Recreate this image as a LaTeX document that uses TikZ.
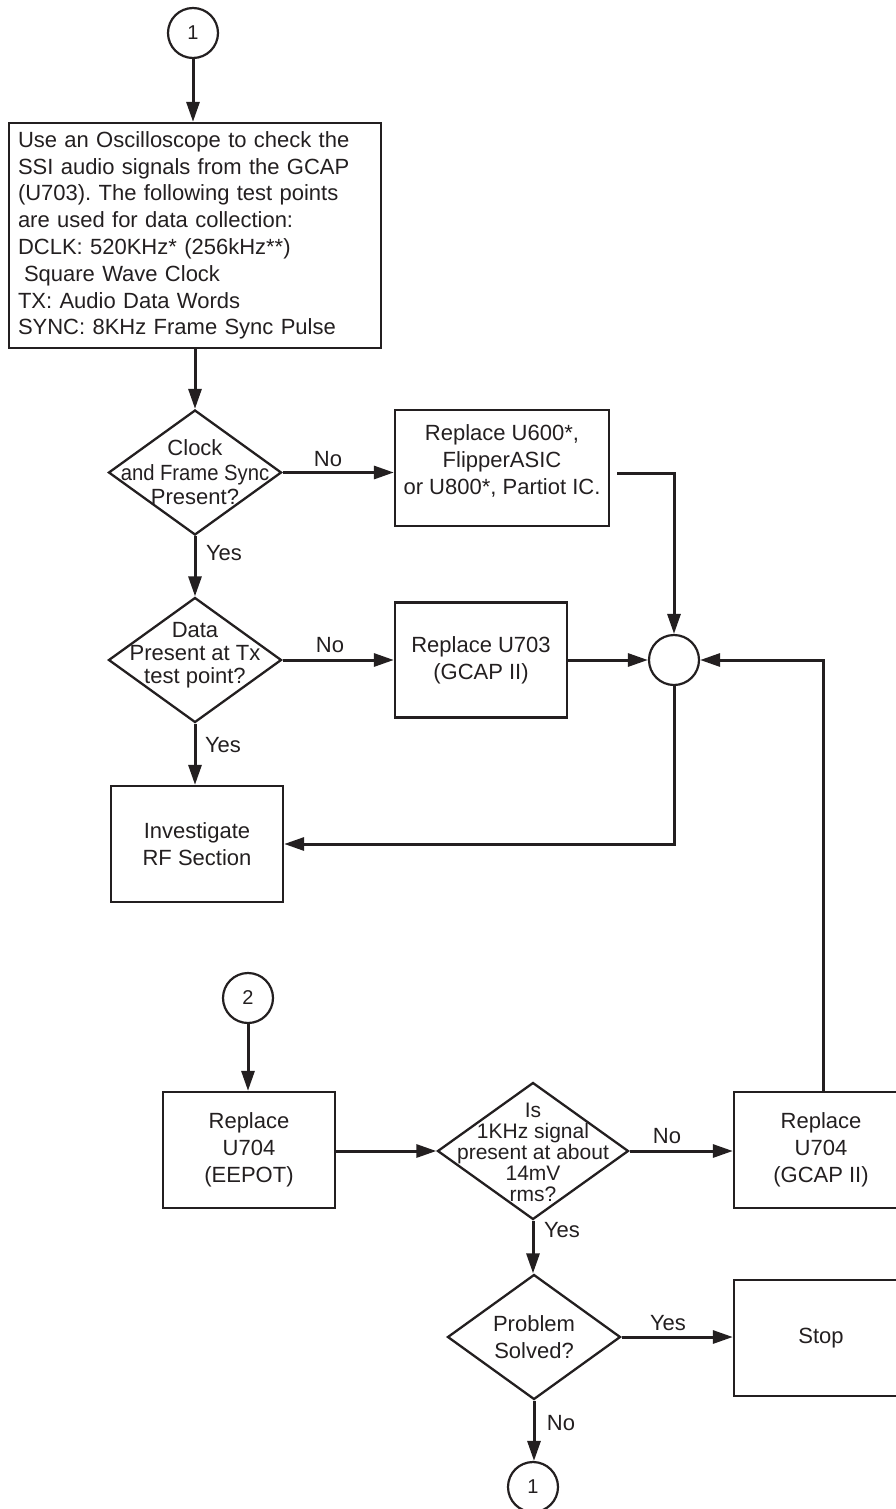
\documentclass[tikz,border=0pt]{standalone}
\usepackage{fontspec}
\setmainfont{Liberation Sans}
\usepackage{graphicx}
\usetikzlibrary{shapes.geometric,arrows.meta,calc}
\definecolor{ink}{RGB}{35,31,32}
\frenchspacing
\begin{document}
\begin{tikzpicture}[x=1pt,y=-1pt,
  every node/.style={text=ink},
  boxn/.style={draw=ink,line width=2.3pt,minimum width=172pt,minimum height=116pt,inner sep=0pt,align=center,font=\fontsize{22}{27}\selectfont},
  dia/.style={diamond,draw=ink,line width=2.3pt,inner sep=0pt,minimum width=173pt,minimum height=125pt},
  dtext/.style={align=center,inner sep=0pt,font=\fontsize{22}{24.5}\selectfont},
  circ/.style={circle,draw=ink,line width=2.2pt,minimum size=50pt,inner sep=0pt,font=\fontsize{20}{24}\selectfont},
  lbl/.style={inner sep=0pt,font=\fontsize{22}{26}\selectfont},
  arr/.style={draw=ink,line width=3pt,-{Triangle[length=20pt,width=13pt]}}]
\useasboundingbox (0,0) rectangle (896,1509);

% nodes
\node[circ] (c1) at (193,33) {1};
\node[draw=ink,line width=2.3pt,minimum width=372pt,minimum height=225pt,text width=354pt,inner xsep=9pt,inner ysep=3pt,align=left,font=\fontsize{22}{26.8}\selectfont] (big) at (195,235.5)
  {Use an Oscilloscope to check the\\SSI audio signals from the GCAP\\(U703). The following test points\\are used for data collection:\\DCLK: 520KHz* (256kHz**)\\\hspace*{6pt}Square Wave Clock\\TX: Audio Data Words\\SYNC: 8KHz Frame Sync Pulse};

\node[dia] (d1) at (195,472.5) {};
\node[dtext] (d1t) at (d1) {Clock\\\scalebox{0.92}[1]{and Frame Sync}\\Present?};

\node[dia] (d2) at (195,660) {};
\node[dtext,font=\fontsize{22}{23}\selectfont] (d2t) at ([yshift=5pt]d2.center) {Data\\Present at Tx\\test point?};

\node[boxn,minimum width=214pt] (u600) at (502,468) {};
\node[dtext,font=\fontsize{22}{27}\selectfont] (u600t) at (502,461) {Replace U600*,\\FlipperASIC\\or U800*, Partiot IC.};

\node[boxn,minimum height=115pt] (u703) at (481,660) {Replace U703\\(GCAP II)};
\node[circ] (join) at (674,660) {};
\node[boxn] (rf) at (197,844) {Investigate\\RF Section};

\node[circ] (c2) at (248,998) {2};
\node[boxn] (eepot) at (249,1150) {Replace\\U704\\(EEPOT)};

\node[dia,minimum width=191pt,minimum height=137pt] (d3) at (533,1151) {};
\node[dtext,font=\fontsize{21}{21}\selectfont] (d3t) at ([yshift=-1.5pt]d3.center) {Is\\1KHz signal\\present at about\\14mV\\rms?};

\node[boxn,minimum width=174pt] (gcap) at (821,1150) {Replace\\U704\\(GCAP II)};

\node[dia] (d4) at (534,1337) {};
\node[dtext,font=\fontsize{22}{27}\selectfont] (d4t) at (d4) {Problem\\Solved?};

\node[boxn,minimum width=174pt] (stop) at (821,1338) {Stop};
\node[circ] (c1b) at (533,1487) {1};

% connectors
\draw[arr] (c1.south) -- (c1.south |- big.north);
\draw[arr] (big.south -| d1.north) -- (d1.north);
\draw[arr] (d1.east) -- (d1.east -| u600.west);
\draw[arr] (d1.south) -- (d2.north);
\draw[arr] (d2.east) -- (d2.east -| u703.west);
\draw[arr] (d2.south) -- (d2.south |- rf.north);
\draw[arr] ([xshift=7pt,yshift=-5pt]u600.east) -| (join.north);
\draw[arr] (u703.east) -- (u703.east -| join.west);
\draw[arr] (join.south) |- (rf.east);
\draw[arr] ([xshift=2pt]gcap.north) |- (join.east);
\draw[arr] (c2.south) -- (c2.south |- eepot.north);
\draw[arr] (eepot.east |- d3.west) -- (d3.west);
\draw[arr] (d3.east) -- (d3.east -| gcap.west);
\draw[arr] (d3.south) -- (d3.south |- d4.north);
\draw[arr] (d4.east) -- (d4.east -| stop.west);
\draw[arr] (d4.south) -- (d4.south |- c1b.north);

% labels
\node[lbl] (l1) at (328,459) {No};
\node[lbl] (l2) at (224,553) {Yes};
\node[lbl] (l3) at (330,645) {No};
\node[lbl] (l4) at (223,745) {Yes};
\node[lbl] (l5) at (667,1136) {No};
\node[lbl] (l6) at (562,1230) {Yes};
\node[lbl] (l7) at (668,1323) {Yes};
\node[lbl] (l8) at (561,1423) {No};
\end{tikzpicture}
\end{document}
